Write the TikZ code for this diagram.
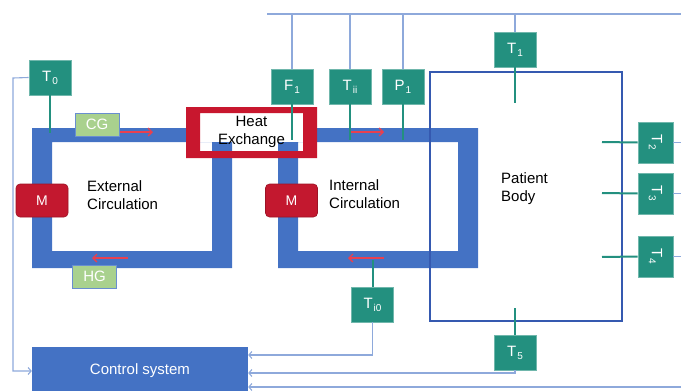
\documentclass[tikz,border=0pt]{standalone}
\usepackage{fontspec}
\setmainfont{Liberation Sans}
\usepackage{tikz}
\usetikzlibrary{arrows.meta,positioning,calc}
\definecolor{cPipe}{HTML}{4472C4}
\definecolor{cBody}{HTML}{3559B0}
\definecolor{cWire}{HTML}{8EA9DB}
\definecolor{cTeal}{HTML}{23907F}
\definecolor{cMotor}{HTML}{C3182F}
\definecolor{cFlow}{HTML}{E8404F}
\definecolor{cHX}{HTML}{C8172E}
\definecolor{cGen}{HTML}{A9D18E}
\newcommand\snsub[1]{\kern1pt\raisebox{-3pt}{\fontsize{10}{10}\selectfont #1}}
\tikzset{
  sens/.style={draw=cTeal!65!white, line width=0.6pt, fill=cTeal, text=white,
               font=\fontsize{15}{17}\selectfont, minimum width=42pt, minimum height=35pt, inner sep=0pt},
  sensv/.style={sens, minimum width=35pt, minimum height=41pt},
  gen/.style={draw=cPipe!80!white, line width=0.8pt, fill=cGen, text=white,
              font=\fontsize{15}{17}\selectfont, minimum width=44pt, minimum height=23pt, inner sep=0pt},
  motor/.style={rounded corners=4pt, draw=cMotor!80!black, line width=0.6pt, fill=cMotor, text=white,
                font=\fontsize{14}{16}\selectfont, minimum width=52pt, minimum height=33pt, inner sep=0pt},
  ctrlbox/.style={fill=cPipe, text=white, font=\fontsize{15}{17}\selectfont,
                  minimum width=216pt, minimum height=48pt, inner sep=0pt},
  lab/.style={font=\fontsize{15}{18}\selectfont, align=left, inner sep=0pt},
  pipe/.style={fill=cPipe, even odd rule},
  stem/.style={draw=cTeal, line width=2pt},
  wire/.style={draw=cWire, line width=1.1pt},
  feed/.style={wire, -{Straight Barb[length=3pt, width=7pt]}},
  flow/.style={draw=cFlow, line width=1.3pt, -{Straight Barb[length=4pt, width=8pt]}},
}

\begin{document}
\begin{tikzpicture}[x=1pt, y=-1pt]
  \useasboundingbox (0,0) rectangle (681,391);
  % circulation loops
  \fill[pipe] (32,128) rectangle (232,268) (52,142) rectangle (212,251);
  \fill[pipe] (278,128) rectangle (478,268) (298,142) rectangle (458,251);
  \node[draw=cBody, line width=1.8pt, minimum width=192pt, minimum height=249pt, inner sep=0pt] (body) at (526,196.5) {};
  % heat exchanger
  \fill[white] (200,113) rectangle (303,142);
  \fill[cHX, even odd rule] (186,107) rectangle (317,158) (200,113) rectangle (303,151);
  \node[lab, align=center] (hx) at (251.5,132) {Heat\\Exchange};
  \node[lab, anchor=west] (extl) at (87,195.5) {External\\Circulation};
  \node[lab, anchor=west] (intl) at (329,194) {Internal\\Circulation};
  \node[lab, anchor=west] (bodyl) at (501,189) {Patient\\Body};
  % sensors
  \node[sens] (t0) at (50,77.5) {T\snsub{0}};
  \node[sens] (f1) at (292,86.5) {F\snsub{1}};
  \node[sens] (tii) at (350,86.5) {T\snsub{ii}};
  \node[sens] (p1) at (403,86.5) {P\snsub{1}};
  \node[sens] (t1) at (515,49.5) {T\snsub{1}};
  \node[sensv] (t2) at (655.5,142.5) {\rotatebox{-90}{T\snsub{2}}};
  \node[sensv] (t3) at (655.5,193.5) {\rotatebox{-90}{T\snsub{3}}};
  \node[sensv] (t4) at (655.5,256.5) {\rotatebox{-90}{T\snsub{4}}};
  \node[sens] (ti0) at (372.5,304.5) {T\snsub{i0}};
  \node[sens] (t5) at (515,352.5) {T\snsub{5}};
  % actuators
  \node[gen] (cg) at (97,124.5) {CG};
  \node[gen] (hg) at (94.5,276.5) {HG};
  \node[motor] (m1) at (42,200.5) {M};
  \node[motor] (m2) at (291.5,200.5) {M};
  \node[ctrlbox] (ctrl) at (140,371) {Control system};
  % stem ends and wire corners
  \coordinate (t0in) at (50,133);
  \coordinate (f1in) at (292,140);
  \coordinate (tiiin) at (350,140);
  \coordinate (p1in) at (403,140);
  \coordinate (t1in) at (515,103);
  \coordinate (t2in) at (602,142);
  \coordinate (t3in) at (602,193);
  \coordinate (t4in) at (602,257);
  \coordinate (ti0in) at (372.5,260);
  \coordinate (t5in) at (515,308);
  \coordinate (busL) at (267,14);
  \coordinate (busR) at (681,14);
  \coordinate (lft) at (13,78);
  \coordinate (rbot) at (681,387);
  % sensor stems
  \draw[stem] (t0.south) -- (t0in);
  \draw[stem] (f1.south) -- (f1in);
  \draw[stem] (tii.south) -- (tiiin);
  \draw[stem] (p1.south) -- (p1in);
  \draw[stem] (t1.south) -- (t1in);
  \draw[stem] (t2.west) -- (t2in);
  \draw[stem] (t3.west) -- (t3in);
  \draw[stem] (t4.west) -- (t4in);
  \draw[stem] (ti0.north) -- (ti0in);
  \draw[stem] (t5.north) -- (t5in);
  % signal wires
  \draw[wire] (busL) -- (busR);
  \draw[wire] (f1.north) -- (f1.north |- busL);
  \draw[wire] (tii.north) -- (tii.north |- busL);
  \draw[wire] (p1.north) -- (p1.north |- busL);
  \draw[wire] (t1.north) -- (t1.north |- busL);
  \draw[wire] (t2.east) -- (t2.east -| rbot);
  \draw[wire] (t3.east) -- (t3.east -| rbot);
  \draw[wire] (t4.east) -- (t4.east -| rbot);
  \draw[feed] (t0.west) -- (lft) |- (ctrl.west);
  \draw[feed] (ti0.south) |- ([yshift=16pt]ctrl.east);
  \draw[feed] (t5.south) |- ([yshift=-2pt]ctrl.east);
  \draw[feed] (rbot) -- ([yshift=-16pt]ctrl.east);
  % flow direction
  \coordinate (fe1) at (120,132);
  \coordinate (fe2) at (128,258);
  \coordinate (fi1) at (351,132);
  \coordinate (fi2) at (384,258);
  \draw[flow] (fe1) -- ++(33,0);
  \draw[flow] (fe2) -- ++(-36,0);
  \draw[flow] (fi1) -- ++(33,0);
  \draw[flow] (fi2) -- ++(-36,0);
\end{tikzpicture}
\end{document}
